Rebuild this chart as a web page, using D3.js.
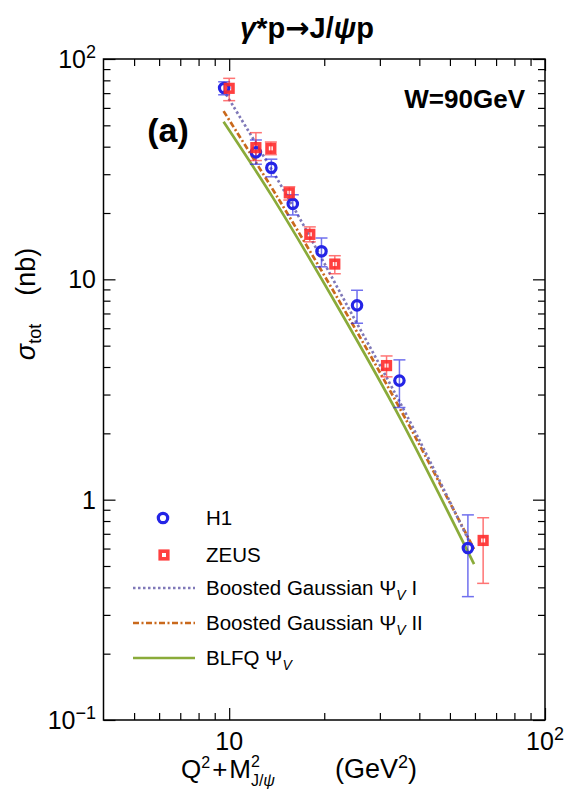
<!DOCTYPE html>
<html><head><meta charset="utf-8">
<script src="https://cdn.jsdelivr.net/npm/d3@7"></script>
<style>
body{margin:0;background:#fff}
svg{display:block}
text{font-family:"Liberation Sans",Arial,Helvetica,sans-serif;fill:#000}
</style>
</head><body>
<svg id="c" width="568" height="797"></svg>
<script>
// ---------- data ----------
const h1X = [9.64, 12.15, 13.6, 15.9, 19.6, 25.4, 34.6, 57.0];
const h1Y = [73.8, 37.7, 32.1, 22.0, 13.4, 7.62, 3.47, 0.603];
const h1ErrHi = [5.0, 5.2, 3.0, 2.2, 2.0, 1.3, 0.84, 0.25];
const h1ErrLo = [5.0, 4.4, 2.9, 2.4, 2.0, 1.3, 0.85, 0.24];

const zeusX = [10.0, 12.15, 13.55, 15.5, 18.0, 21.6, 31.5, 63.7];
const zeusY = [73.6, 39.6, 39.3, 24.7, 16.0, 11.73, 4.06, 0.653];
const zeusErrHi = [8.1, 6.7, 2.7, 1.6, 1.3, 1.07, 0.43, 0.175];
const zeusErrLo = [8.9, 5.0, 2.5, 1.8, 1.2, 1.13, 0.45, 0.236];

const bg1X = [9.6, 9.95, 15.2, 23.9, 36.9, 59.6];
const bg1Y = [72.0, 66.3, 24.1, 7.39, 2.34, 0.583];
const bg2X = [9.6, 14.3, 23.0, 36.1, 59.6];
const bg2Y = [58.0, 23.3, 7.39, 2.34, 0.597];
const blfqX = [9.6, 13.8, 22.2, 34.8, 59.6];
const blfqY = [51.9, 23.3, 7.39, 2.34, 0.51];

const xMajor = [10, 100];
const xMinor = [5, 6, 7, 8, 9, 20, 30, 40, 50, 60, 70, 80, 90];
const yMajor = [0.1, 1, 10, 100];
const yMinor = [0.2,0.3,0.4,0.5,0.6,0.7,0.8,0.9,2,3,4,5,6,7,8,9,20,30,40,50,60,70,80,90];
const xTickLabels = [{v:10, base:"10", sup:""}, {v:100, base:"10", sup:"2"}];
const yTickLabels = [{v:100, base:"10", sup:"2"}, {v:10, base:"10", sup:""}, {v:1, base:"1", sup:""}, {v:0.1, base:"10", sup:"\u22121"}];

// ---------- colors ----------
const cBlue = "#2424e6", cRed = "#ff2b2b";
const cPurple = "#7f78b8", cOrange = "#c9691c", cGreen = "#8aab3a";

const svg = d3.select("#c");
const L = 103.5, R = 545, T = 59, B = 720;
const x = d3.scaleLog().domain([4, 100]).range([L, R]);
const y = d3.scaleLog().domain([0.1, 100]).range([B, T]);

// ---------- axes (inward ticks on all sides) ----------
function addAxis(gen, tr) {
  const g = svg.append("g").attr("transform", tr).call(gen);
  g.select(".domain").remove();
  g.selectAll("line").attr("stroke", "#000").attr("stroke-width", 1.2);
}
addAxis(d3.axisBottom(x).tickValues(xMajor).tickSize(-12).tickFormat(""), `translate(0,${B})`);
addAxis(d3.axisBottom(x).tickValues(xMinor).tickSize(-7).tickFormat(""), `translate(0,${B})`);
addAxis(d3.axisTop(x).tickValues(xMajor).tickSize(-12).tickFormat(""), `translate(0,${T})`);
addAxis(d3.axisTop(x).tickValues(xMinor).tickSize(-7).tickFormat(""), `translate(0,${T})`);
addAxis(d3.axisLeft(y).tickValues(yMajor).tickSize(-12).tickFormat(""), `translate(${L},0)`);
addAxis(d3.axisLeft(y).tickValues(yMinor).tickSize(-7).tickFormat(""), `translate(${L},0)`);
addAxis(d3.axisRight(y).tickValues(yMajor).tickSize(-12).tickFormat(""), `translate(${R},0)`);
addAxis(d3.axisRight(y).tickValues(yMinor).tickSize(-7).tickFormat(""), `translate(${R},0)`);

svg.append("rect").attr("x", L).attr("y", T).attr("width", R - L).attr("height", B - T)
  .attr("fill", "none").attr("stroke", "#000").attr("stroke-width", 1.5);

// tick labels
xTickLabels.forEach(d => {
  const t = svg.append("text").attr("x", x(d.v)).attr("y", 750).attr("text-anchor", "middle")
    .attr("font-size", 25);
  t.append("tspan").text(d.base);
  if (d.sup) t.append("tspan").attr("dy", -10).attr("font-size", 18).text(d.sup);
});
yTickLabels.forEach(d => {
  const t = svg.append("text").attr("x", 96).attr("y", y(d.v) + 9).attr("text-anchor", "end")
    .attr("font-size", 25);
  t.append("tspan").text(d.base);
  if (d.sup) t.append("tspan").attr("dy", -10).attr("font-size", 18).text(d.sup);
});

// ---------- model curves ----------
const line = d3.line().x(d => x(d[0])).y(d => y(d[1])).curve(d3.curveCatmullRom);
function curve(xs, ys, color, dash, w) {
  svg.append("path").datum(xs.map((v, i) => [v, ys[i]]))
    .attr("d", line).attr("fill", "none").attr("stroke", color)
    .attr("stroke-width", w).attr("stroke-dasharray", dash);
}
curve(blfqX, blfqY, cGreen, null, 2.7);
curve(bg2X, bg2Y, cOrange, "6,2.5,2,2.5", 2.7);
curve(bg1X, bg1Y, cPurple, "2.5,2.5", 2.7);

// ---------- data points ----------
function errBars(xs, ys, hi, lo, color) {
  const g = svg.append("g").attr("stroke", color).attr("stroke-width", 1.5).attr("opacity", 0.65);
  xs.forEach((v, i) => {
    const px = x(v), y1 = y(ys[i] + hi[i]), y2 = y(ys[i] - lo[i]);
    g.append("line").attr("x1", px).attr("x2", px).attr("y1", y1).attr("y2", y2);
    g.append("line").attr("x1", px - 6).attr("x2", px + 6).attr("y1", y1).attr("y2", y1);
    g.append("line").attr("x1", px - 6).attr("x2", px + 6).attr("y1", y2).attr("y2", y2);
  });
}
errBars(h1X, h1Y, h1ErrHi, h1ErrLo, cBlue);
errBars(zeusX, zeusY, zeusErrHi, zeusErrLo, cRed);

svg.append("g").selectAll("circle").data(h1X).join("circle")
  .attr("cx", d => x(d)).attr("cy", (d, i) => y(h1Y[i])).attr("r", 4.7)
  .attr("fill", "none").attr("stroke", cBlue).attr("stroke-width", 3.2);
svg.append("g").selectAll("rect").data(zeusX).join("rect")
  .attr("x", d => x(d) - 3.8).attr("y", (d, i) => y(zeusY[i]) - 3.8)
  .attr("width", 7.6).attr("height", 7.6)
  .attr("fill", "none").attr("stroke", cRed).attr("stroke-width", 3.6).attr("opacity", 0.9);

// ---------- texts ----------
const title = svg.append("text").attr("x", 307).attr("y", 38).attr("text-anchor", "middle")
  .attr("font-size", 29).attr("font-weight", "bold");
title.append("tspan").attr("font-style", "italic").text("\u03b3");
title.append("tspan").text("*p");
title.append("tspan").attr("font-family", "DejaVu Sans").text("\u2192");
title.append("tspan").text("J/");
title.append("tspan").attr("font-style", "italic").text("\u03c8");
title.append("tspan").text("p");

svg.append("text").attr("x", 525).attr("y", 108).attr("text-anchor", "end")
  .attr("font-size", 26).attr("font-weight", "bold").text("W=90GeV");
svg.append("text").attr("x", 168).attr("y", 142).attr("text-anchor", "middle")
  .attr("font-size", 34).attr("font-weight", "bold").text("(a)");

// y axis label
const yl = svg.append("text").attr("transform", "translate(35,304) rotate(-90)")
  .attr("text-anchor", "middle").attr("font-size", 27);
yl.append("tspan").attr("font-style", "italic").text("\u03c3");
yl.append("tspan").attr("dy", 6).attr("font-size", 18).text("tot");
yl.append("tspan").attr("dy", -6).attr("dx", 28).text("(nb)");

// x axis label
const xl = svg.append("text").attr("x", 181).attr("y", 778).attr("text-anchor", "start").attr("font-size", 26);
xl.append("tspan").text("Q");
xl.append("tspan").attr("dy", -10).attr("font-size", 16).text("2");
xl.append("tspan").attr("dy", 10).attr("dx", 2).text("+");
xl.append("tspan").attr("dx", 2).text("M");
xl.append("tspan").attr("dy", -11).attr("font-size", 16).text("2");
xl.append("tspan").attr("dy", 19).attr("dx", -9).attr("font-size", 16).text("J/");
xl.append("tspan").attr("font-size", 16).attr("font-style", "italic").text("\u03c8");
xl.append("tspan").attr("dy", -8).attr("dx", 60).attr("font-size", 27).text("(GeV");
xl.append("tspan").attr("dy", -10).attr("font-size", 18).text("2");
xl.append("tspan").attr("dy", 10).attr("font-size", 27).text(")");

// ---------- legend ----------
const lg = svg.append("g");
lg.append("circle").attr("cx", 163).attr("cy", 518).attr("r", 4.7)
  .attr("fill", "none").attr("stroke", cBlue).attr("stroke-width", 3.2);
lg.append("rect").attr("x", 164 - 3.8).attr("y", 555 - 3.8).attr("width", 7.6).attr("height", 7.6)
  .attr("fill", "none").attr("stroke", cRed).attr("stroke-width", 3.6).attr("opacity", 0.9);
const legLines = [
  {yy: 588, color: cPurple, dash: "2.5,2.5"},
  {yy: 623, color: cOrange, dash: "6,2.5,2,2.5"},
  {yy: 658, color: cGreen, dash: null}
];
legLines.forEach(d => {
  lg.append("line").attr("x1", 133).attr("x2", 195).attr("y1", d.yy).attr("y2", d.yy)
    .attr("stroke", d.color).attr("stroke-width", 2.7).attr("stroke-dasharray", d.dash);
});
function legText(yy, parts) {
  const t = lg.append("text").attr("x", 206).attr("y", yy).attr("font-size", 20.5);
  parts.forEach(p => {
    const s = t.append("tspan").text(p.t);
    if (p.sub) s.attr("dy", 5).attr("font-size", 14).attr("font-style", "italic");
    if (p.back) s.attr("dy", -5);
  });
}
legText(525, [{t: "H1"}]);
legText(562, [{t: "ZEUS"}]);
legText(595, [{t: "Boosted Gaussian \u03a8"}, {t: "V", sub: true}, {t: " I", back: true}]);
legText(630, [{t: "Boosted Gaussian \u03a8"}, {t: "V", sub: true}, {t: " II", back: true}]);
legText(665, [{t: "BLFQ \u03a8"}, {t: "V", sub: true}]);
</script>
</body></html>
